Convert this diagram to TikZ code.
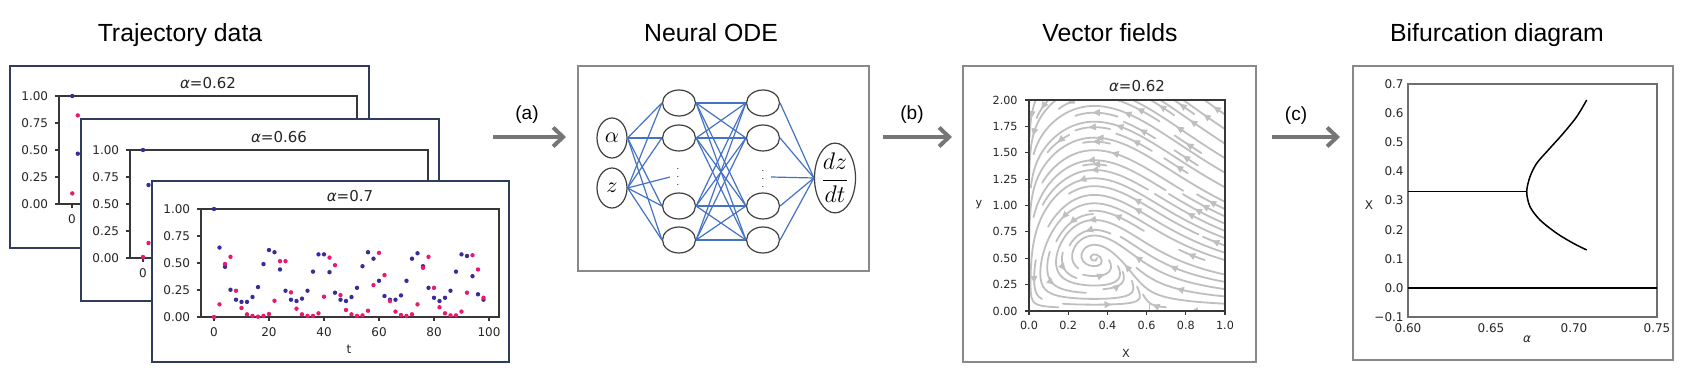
\documentclass[tikz,border=0pt]{standalone}
\usepackage{fontspec}
\usepackage{amsmath}
\usetikzlibrary{arrows.meta,calc,shapes.geometric}
\newfontfamily\arialf{Liberation Sans}
\newfontfamily\mplf{DejaVu Sans}
\definecolor{navyfr}{RGB}{47,60,92}
\definecolor{panelgray}{RGB}{137,137,137}
\definecolor{nnblue}{RGB}{68,114,196}
\definecolor{arrgray}{RGB}{118,118,118}
\definecolor{ptblue}{RGB}{55,45,150}
\definecolor{ptpink}{RGB}{232,25,110}
\definecolor{streamgray}{RGB}{191,191,191}
\definecolor{spinecol}{RGB}{55,55,55}
\definecolor{bifspine}{RGB}{110,110,110}

% ---------- streamplot machinery ----------
\newcount\vfnstep \newcount\vfcntb \newcount\vfcntf \newcount\vfkk
\newcount\vfcurI \newcount\vfcurJ \newcount\vftcn
\newcount\vfgx \newcount\vfgy \newcount\vfxf \newcount\vfyf
\newcount\vfxl \newcount\vfyl \newcount\vfgd
\newif\ifvfgo \newif\ifvfin
\pgfmathdeclarefunction{vfa}{2}{\pgfmathparse{10*(#1*(1-#1/0.62)-0.8*#1*#2/(0.1+#1))}}
\pgfmathdeclarefunction{vfb}{2}{\pgfmathparse{13.3*#2*(#1-0.33333)}}
\def\vfds{0.02}
\def\vfdirf#1#2{%
  \pgfmathsetmacro\vfua{vfa(#1,#2)}%
  \pgfmathsetmacro\vfub{vfb(#1,#2)}%
  \pgfmathsetmacro\vfspd{veclen(\vfua,\vfub)}%
  \ifdim\vfspd pt<0.0005pt\relax \vfgofalse\def\vfka{0}\def\vfkb{0}%
  \else\pgfmathsetmacro\vfka{\vfua/\vfspd}\pgfmathsetmacro\vfkb{\vfub/\vfspd}\fi}
\def\vfinside#1#2{\vfintrue
  \ifdim#1pt<0pt \vfinfalse\fi \ifdim#1pt>1pt \vfinfalse\fi
  \ifdim#2pt<0pt \vfinfalse\fi \ifdim#2pt>1pt \vfinfalse\fi}
\def\vfmark{\global\advance\vftcn by 1
  \expandafter\xdef\csname vfT\the\vftcn\endcsname{\vfci-\vfcj}%
  \expandafter\gdef\csname vfM\vfci-\vfcj\endcsname{1}}
\def\vfcheckocc{%
  \expandafter\ifx\csname vfM\vfci-\vfcj\endcsname\relax
    \vfmark \vfcurI=\vfci\relax \vfcurJ=\vfcj\relax
  \else \vfgofalse \fi}
\def\vfcheckcell{%
  \ifnum\vfci=\vfcurI \ifnum\vfcj=\vfcurJ \else \vfcheckocc \fi \else \vfcheckocc \fi}
\def\vfappend#1{\advance\vfnstep by 1
  \expandafter\edef\csname vfP\the\numexpr1000+#1*\vfnstep\relax\endcsname{\vfna,\vfnb}%
  \let\vfpa\vfna \let\vfpb\vfnb}
\def\vfinteg#1{%
  \let\vfpa\vfsa \let\vfpb\vfsb
  \vfnstep=0 \vfgotrue
  \vfcurI=\vfsI\relax \vfcurJ=\vfsJ\relax
  \loop
    \vfdirf{\vfpa}{\vfpb}%
    \ifvfgo
      \let\vfkaone\vfka \let\vfkbone\vfkb
      \pgfmathsetmacro\vfqa{\vfpa+#1*\vfds*\vfkaone}%
      \pgfmathsetmacro\vfqb{\vfpb+#1*\vfds*\vfkbone}%
      \vfinside{\vfqa}{\vfqb}%
      \ifvfin
        \vfdirf{\vfqa}{\vfqb}%
        \ifvfgo
          \pgfmathsetmacro\vfna{\vfpa+#1*\vfds*0.5*(\vfkaone+\vfka)}%
          \pgfmathsetmacro\vfnb{\vfpb+#1*\vfds*0.5*(\vfkbone+\vfkb)}%
          \vfinside{\vfna}{\vfnb}%
          \ifvfin
            \pgfmathtruncatemacro\vfci{round(\vfna*29)}%
            \pgfmathtruncatemacro\vfcj{round(\vfnb*29)}%
            \vfcheckcell
            \ifvfgo \vfappend{#1}\fi
          \else
            \vfappend{#1}\vfgofalse
          \fi
        \fi
      \else
        \let\vfna\vfqa \let\vfnb\vfqb
        \vfappend{#1}\vfgofalse
      \fi
    \fi
    \ifnum\vfnstep>199 \vfgofalse\fi
  \ifvfgo\repeat}
\def\vfundo{\vfkk=0
  \loop \advance\vfkk by 1
    \edef\vftmp{\csname vfT\the\vfkk\endcsname}%
    \expandafter\global\expandafter\let\csname vfM\vftmp\endcsname\relax
  \ifnum\vfkk<\vftcn\repeat}
\def\vfdrawtraj{%
  \def\vfpath{}\vfkk=-\vfcntb
  \loop
    \edef\vfpath{\vfpath(\csname vfP\the\numexpr1000+\vfkk\relax\endcsname)}%
    \advance\vfkk by 1
  \ifnum\vfkk<\numexpr\vfcntf+1\relax\repeat
  \edef\vftmp{\noexpand\draw[streamline] plot coordinates {\vfpath};}\vftmp
  \vfkk=\numexpr(\vfcntf-\vfcntb)/2\relax
  \edef\vfA{\csname vfP\the\numexpr1000+\vfkk\relax\endcsname}%
  \edef\vfB{\csname vfP\the\numexpr1001+\vfkk\relax\endcsname}%
  \edef\vftmp{\noexpand\draw[streamarrow] (\vfA) -- ($(\vfA)!0.5!(\vfB)$);}\vftmp}
\def\vfseed#1#2{%
  \expandafter\ifx\csname vfM#1-#2\endcsname\relax
    \global\vftcn=0
    \pgfmathsetmacro\vfsa{#1/29}\pgfmathsetmacro\vfsb{#2/29}%
    \def\vfsI{#1}\def\vfsJ{#2}\def\vfci{#1}\def\vfcj{#2}\vfmark
    \expandafter\edef\csname vfP1000\endcsname{\vfsa,\vfsb}%
    \vfinteg{-1}\vfcntb=\vfnstep\relax
    \vfinteg{1}\vfcntf=\vfnstep\relax
    \ifnum\numexpr\vfcntb+\vfcntf\relax>5 \vfdrawtraj \else \vfundo \fi
  \fi}
\def\vfadvance{%
  \ifcase\vfgd
    \global\advance\vfgx 1 \ifnum\vfgx<\vfxl\else \global\advance\vfxl -1 \global\vfgd=1 \fi
  \or
    \global\advance\vfgy 1 \ifnum\vfgy<\vfyl\else \global\advance\vfyl -1 \global\vfgd=2 \fi
  \or
    \global\advance\vfgx -1 \ifnum\vfgx>\vfxf\else \global\advance\vfxf 1 \global\vfgd=3 \fi
  \or
    \global\advance\vfgy -1 \ifnum\vfgy>\vfyf\else \global\advance\vfyf 1 \global\vfgd=0 \fi
  \fi}

% ---------- trajectory subplot ----------
\newcommand\trajplot[4]{%
  \draw[spinestyle] (#1,#2) rectangle ++(298,108);
  \foreach \val/\lab in {0/0.00,0.25/0.25,0.5/0.50,0.75/0.75,1/1.00}{%
    \draw[spinestyle] (#1,#2+108-108*\val) -- ++(-4,0);
    \node[ticklab,anchor=east] at (#1-10.5,#2+108-108*\val) {\lab};}%
  \foreach \tv in {0,20,40,60,80,100}{%
    \draw[spinestyle] (#1+13+2.75*\tv,#2+108) -- ++(0,4);
    \node[ticklab] at (#1+13+2.75*\tv,#2+123) {\tv};}%
  \node[plottitle] (#4) at (#1+149,#2-13) {#3};}

\begin{document}
\begin{tikzpicture}[x=0.5pt,y=-0.5pt,
  paneltitle/.style={font=\arialf\fontsize{12.4}{15}\selectfont, anchor=base, inner sep=0pt},
  steplabel/.style={font=\arialf\fontsize{9.5}{11}\selectfont, inner sep=0pt},
  bigarrow/.style={draw=arrgray, line width=2pt, -{Straight Barb[length=5pt,width=9.5pt]}},
  trajframe/.style={draw=navyfr, fill=white, line width=0.75pt, inner sep=0pt},
  panelframe/.style={draw=panelgray, fill=white, line width=0.7pt, inner sep=0pt},
  spinestyle/.style={draw=spinecol, line width=0.6pt},
  ticklab/.style={font=\mplf\fontsize{6}{7}\selectfont, inner sep=0pt, text=black!85},
  plottitle/.style={font=\mplf\fontsize{7.5}{9}\selectfont, inner sep=0pt, text=black!85},
  vflab/.style={font=\mplf\fontsize{5.6}{7}\selectfont, inner sep=0pt, text=black!85},
  biflab/.style={font=\mplf\fontsize{6}{7}\selectfont, inner sep=0pt, text=black!85},
  nnin/.style={ellipse, draw=black!75, fill=white, line width=0.6pt, minimum width=15pt, minimum height=20pt, inner sep=0pt, font=\fontsize{11}{13}\selectfont},
  nnhid/.style={ellipse, draw=black!75, fill=white, line width=0.6pt, minimum width=16.5pt, minimum height=13pt, inner sep=0pt},
  nnout/.style={ellipse, draw=black!75, fill=white, line width=0.6pt, minimum width=20pt, minimum height=34pt, inner sep=0pt, font=\fontsize{11.5}{13}\selectfont},
  nnedge/.style={draw=nnblue, line width=0.6pt},
  nndots/.style={font=\fontsize{4.5}{5}\selectfont, inner sep=0pt},
  streamline/.style={draw=streamgray, line width=0.9pt, line join=round, line cap=round},
  streamarrow/.style={draw=streamgray, fill=streamgray, line width=0.5pt, -{Triangle[length=3.6pt,width=3.4pt]}},
  bifcurve/.style={draw=black, line width=0.75pt},
  dotb/.style={fill=ptblue},
  dotp/.style={fill=ptpink}]
\useasboundingbox (0,0) rectangle (1698,373);
\fill[white] (0,0) rectangle (1698,373);

% ---------- titles ----------
\node[paneltitle] (ttraj) at (180,42) {Trajectory data};
\node[paneltitle] (tnode) at (711,42) {Neural ODE};
\node[paneltitle] (tvf) at (1110,42) {Vector fields};
\node[paneltitle] (tbif) at (1497,42) {Bifurcation diagram};

% ---------- trajectory data ----------
\node[trajframe, minimum width=179.5pt, minimum height=91pt] (f1) at (189.5,157) {};
\trajplot{59}{96}{{\itshape α}=0.62}{p1title}
\fill[dotb] (72.3,96) circle[radius=1.1pt];
\fill[dotp] (72.3,193.4) circle[radius=1.1pt];
\fill[dotb] (77.8,153.7) circle[radius=1.1pt];
\fill[dotp] (77.8,115.4) circle[radius=1.1pt];

\node[trajframe, minimum width=179pt, minimum height=91pt] (f2) at (260,210) {};
\trajplot{130}{150}{{\itshape α}=0.66}{p2title}
\fill[dotb] (143,150) circle[radius=1.1pt];
\fill[dotp] (143,257) circle[radius=1.1pt];
\fill[dotb] (148.5,185) circle[radius=1.1pt];
\fill[dotp] (148.5,243) circle[radius=1.1pt];

\node[trajframe, minimum width=178.5pt, minimum height=90.5pt] (f3) at (330.5,271.5) {};
\trajplot{201}{209}{{\itshape α}=0.7}{p3title}
\node[ticklab] (tlab) at (349,349) {t};
\foreach \val [count=\ix from 0] in {1.00,0.643,0.465,0.252,0.16,0.14,0.14,0.185,0.277,0.49,0.62,0.60,0.44,0.243,0.16,0.148,0.17,0.243,0.42,0.58,0.58,0.415,0.225,0.16,0.148,0.185,0.27,0.47,0.60,0.54,0.335,0.194,0.16,0.16,0.20,0.335,0.54,0.59,0.47,0.27,0.178,0.148,0.178,0.243,0.42,0.58,0.565,0.378,0.21,0.16}
  \fill[dotb] (214+5.5*\ix,317-108*\val) circle[radius=1.1pt];
\foreach \val [count=\ix from 0] in {0.0,0.117,0.49,0.557,0.243,0.083,0.025,0.01,0.003,0.01,0.028,0.15,0.517,0.517,0.228,0.077,0.025,0.01,0.01,0.034,0.188,0.55,0.48,0.203,0.065,0.025,0.01,0.015,0.058,0.295,0.594,0.388,0.148,0.05,0.018,0.01,0.025,0.117,0.455,0.557,0.27,0.09,0.034,0.015,0.015,0.05,0.225,0.572,0.44,0.178}
  \fill[dotp] (214+5.5*\ix,317-108*\val) circle[radius=1.1pt];

% ---------- step arrows ----------
\coordinate (a1) at (493,137); \coordinate (a2) at (566,137);
\coordinate (b1) at (883,137); \coordinate (b2) at (952,137);
\coordinate (c1) at (1272,137); \coordinate (c2) at (1340,137);
\draw[bigarrow] (a1) -- (a2);
\draw[bigarrow] (b1) -- (b2);
\draw[bigarrow] (c1) -- (c2);
\node[steplabel] (la) at (527,115) {(a)};
\node[steplabel] (lb) at (912,115) {(b)};
\node[steplabel] (lc) at (1296,116) {(c)};

% ---------- neural ODE ----------
\node[panelframe, minimum width=145.5pt, minimum height=102.5pt] (fnn) at (723.5,168.5) {};
\coordinate (dz1) at (670,177);
\coordinate (dz2) at (771,177);
\node[nnin] (nin1) at (612,138) {$\alpha$};
\node[nnin] (nin2) at (612,188) {$z$};
\foreach \yy [count=\ix] in {103,138,206,240}{
  \node[nnhid] (h1\ix) at (679,\yy) {};
  \node[nnhid] (h2\ix) at (763,\yy) {};}
\node[nnout] (nout) at (835,178) {$\dfrac{dz}{dt}$};
\node[nndots] (dots1) at (678,171) {$\vdots$};
\node[nndots] (dots2) at (763,173) {$\vdots$};
\foreach \ix in {1,...,4}{
  \draw[nnedge] (nin1.east) -- (h1\ix.west);
  \draw[nnedge] (nin2.east) -- (h1\ix.west);
  \draw[nnedge] (h2\ix.east) -- (nout.west);
  \foreach \jx in {1,...,4} \draw[nnedge] (h1\ix.east) -- (h2\jx.west);}
\draw[nnedge] (nin2.east) -- (dz1);
\draw[nnedge] (dz2) -- (nout.west);

% ---------- vector field ----------
\node[panelframe, minimum width=146.5pt, minimum height=148pt] (fvf) at (1109.5,214) {};
\begin{scope}[shift={(1029,311)}, x=98pt, y=105.5pt]
  \clip (0,0) rectangle (1,1);
  \global\vfgx=0 \global\vfgy=0 \global\vfxf=0 \global\vfyf=1
  \global\vfxl=29 \global\vfyl=29 \global\vfgd=0
  \foreach \ix in {1,...,900}{%
    \edef\vftmp{\noexpand\vfseed{\the\vfgx}{\the\vfgy}}\vftmp
    \vfadvance}
\end{scope}
\draw[spinestyle] (1029,100) rectangle (1225,311);
\foreach \val in {0.0,0.2,0.4,0.6,0.8,1.0}{
  \draw[spinestyle] (1029+196*\val,311) -- ++(0,4);
  \node[vflab] at (1029+196*\val,325) {\val};}
\foreach \val in {0.00,0.25,0.50,0.75,1.00,1.25,1.50,1.75,2.00}{
  \draw[spinestyle] (1029,311-105.5*\val) -- ++(-4,0);
  \node[vflab,anchor=east] at (1018,311-105.5*\val) {\val};}
\node[plottitle] (vftitle) at (1137,86) {{\itshape α}=0.62};
\node[vflab] (vfy) at (979,205) {y};
\node[vflab] (vfx) at (1126,353) {X};

% ---------- bifurcation ----------
\node[panelframe, minimum width=160pt, minimum height=147pt] (fbif) at (1513,213) {};
\draw[draw=bifspine, line width=0.6pt] (1408,84) rectangle (1657,317);
\foreach \val/\lab in {-0.1/−0.1,0.0/0.0,0.1/0.1,0.2/0.2,0.3/0.3,0.4/0.4,0.5/0.5,0.6/0.6,0.7/0.7}
  \node[biflab,anchor=east] at (1404,317-291*\val-29.1) {\lab};
\foreach \val in {0.60,0.65,0.70,0.75}
  \node[biflab] at (1408+1660*\val-996,328) {\val};
\node[biflab] (bify) at (1369,205) {X};
\node[biflab] (bifx) at (1527,339) {\itshape α};
\draw[bifcurve] (1408,191.7) -- (1526.7,191.7);
\draw[bifcurve] (1408,288) -- (1657,288);
\draw[bifcurve] plot[smooth] coordinates {(1586.7,250) (1573.3,243.3) (1556.7,233.3) (1540,220) (1530,206.7) (1526.7,191.7) (1530,176.7) (1536.7,163.3) (1548.3,150) (1563.3,133.3) (1576.7,116.7) (1586.7,100)};
\end{tikzpicture}
\end{document}
